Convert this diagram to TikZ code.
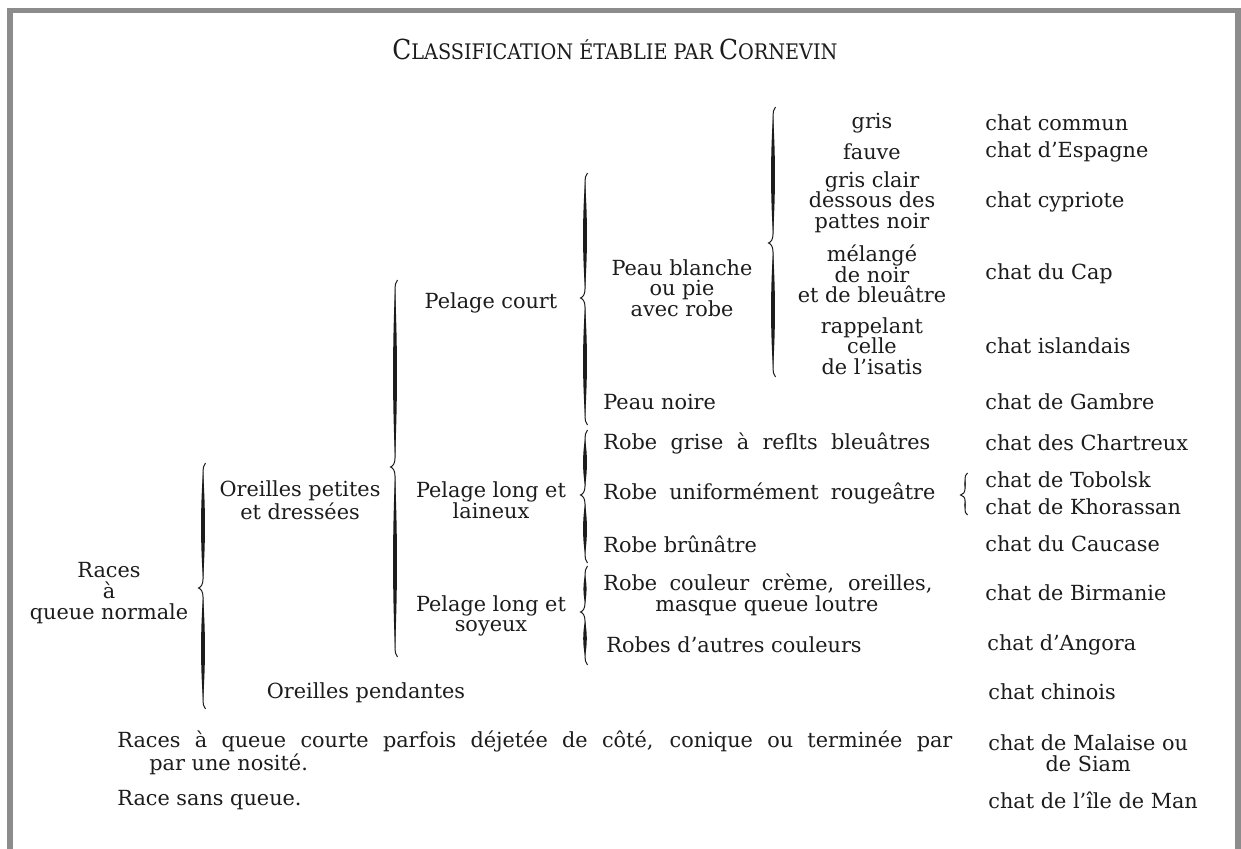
\documentclass[tikz,border=0pt]{standalone}
\usepackage{fontspec}
\setmainfont{DejaVu Serif}
\newfontfamily\titrefont{DejaVu Serif Condensed}
\definecolor{ink}{HTML}{1C1C1C}
\definecolor{cadre}{HTML}{8C8C8C}
% petites capitales faites a la main
\newcommand{\petcap}[2]{{\fontsize{13.8}{14}\selectfont #1}{\fontsize{10.7}{12}\selectfont #2}}
% accolade ouvrante : x, haut, pointe, bas
\newcommand{\accolade}[4]{%
  \pgfmathsetmacro{\accA}{min(9,0.28*(#3-#2))}%
  \pgfmathsetmacro{\accB}{min(9,0.28*(#4-#3))}%
  \pgfmathsetmacro{\wA}{min(2.6,0.045*(#3-#2))}%
  \pgfmathsetmacro{\wB}{min(2.6,0.045*(#4-#3))}%
  \pgfmathsetmacro{\hA}{#2+\accA+0.33*(#3-#2-2*\accA)}%
  \pgfmathsetmacro{\kA}{#3-\accA-0.33*(#3-#2-2*\accA)}%
  \pgfmathsetmacro{\hB}{#3+\accB+0.33*(#4-#3-2*\accB)}%
  \pgfmathsetmacro{\kB}{#4-\accB-0.33*(#4-#3-2*\accB)}%
  \draw[accol] (#1+2.5,#2) .. controls (#1+0.3,#2+0.3*\accA) and (#1,#2+0.6*\accA) .. (#1,#2+\accA)
    -- (#1,#3-\accA) .. controls (#1,#3-0.4*\accA) and (#1-2,#3-0.1*\accA) .. (#1-4.5,#3)
    .. controls (#1-2,#3+0.1*\accB) and (#1,#3+0.4*\accB) .. (#1,#3+\accB)
    -- (#1,#4-\accB) .. controls (#1,#4-0.6*\accB) and (#1+0.3,#4-0.3*\accB) .. (#1+2.5,#4);
  \fill[ink] (#1,#2+\accA) .. controls (#1-\wA,\hA) and (#1-\wA,\kA) .. (#1,#3-\accA)
    .. controls (#1+\wA,\kA) and (#1+\wA,\hA) .. cycle;
  \fill[ink] (#1,#3+\accB) .. controls (#1-\wB,\hB) and (#1-\wB,\kB) .. (#1,#4-\accB)
    .. controls (#1+\wB,\kB) and (#1+\wB,\hB) .. cycle;
}

\begin{document}
\begin{tikzpicture}[x=0.5pt,y=-0.5pt,
    txt/.style={font=\fontsize{10.4}{10.3}\selectfont, text=ink},
    lt/.style={txt, anchor=west},
    ctr/.style={txt, align=center},
    accol/.style={draw=ink, line width=0.5pt}]
  \tikzstyle{every node}+=[inner sep=0pt]
  \useasboundingbox (0,0) rectangle (1241,849);
  \fill[white] (0,0) rectangle (1241,849);
  % cadre de la page
  \fill[cadre] (7,8) rectangle (13,849);
  \fill[cadre] (7,8) rectangle (1241,13);
  \fill[cadre] (1235,8) rectangle (1241,849);

  \node[txt] (titre) at (615,49) {\titrefont\petcap{C}{LASSIFICATION ÉTABLIE PAR}\ \petcap{C}{ORNEVIN}};

  % premiere colonne
  \node[ctr] (normale) at (109,593) {Races\\à\\queue normale};
  \node[ctr] (dressees) at (300,500) {Oreilles petites\\et dressées};
  \node[ctr] (pendantes) at (366,693) {Oreilles pendantes};
  \node[ctr] (court) at (491,303) {Pelage court};
  \node[ctr] (laineux) at (491,500) {Pelage long et\\laineux};
  \node[ctr] (soyeux) at (491,616) {Pelage long et\\soyeux};

  % robes
  \node[ctr] (blanche) at (682,288) {Peau blanche\\ou pie\\avec robe};
  \node[lt] (noire) at (603,402) {Peau noire};
  \node[lt] (grise) at (603,443) {\makebox[163.5pt][s]{Robe grise à reflts bleuâtres}};
  \node[lt] (rouge) at (603,493) {\makebox[166pt][s]{Robe uniformément rougeâtre}};
  \node[lt] (brun) at (603,544) {Robe brûnâtre};
  \node[lt, align=left] (creme) at (603,595) {\makebox[164.5pt][s]{Robe couleur crème, oreilles,}\\\hspace*{26pt}masque queue loutre};
  \node[lt] (autres) at (606,645) {Robes d’autres couleurs};

  % nuances
  \node[ctr] (gris) at (872,123) {gris};
  \node[ctr] (fauve) at (872,152) {fauve};
  \node[ctr] (clair) at (872,202) {gris clair\\dessous des\\pattes noir};
  \node[ctr] (melange) at (872,274) {mélangé\\de noir\\et de bleuâtre};
  \node[ctr] (isatis) at (872,346) {rappelant\\celle\\de l’isatis};

  % races de chats
  \node[lt] (commun) at (985,123) {chat commun};
  \node[lt] (espagne) at (985,152) {chat d’Espagne};
  \node[lt] (cypriote) at (985,202) {chat cypriote};
  \node[lt] (cap) at (985,274) {chat du Cap};
  \node[lt] (islandais) at (985,346) {chat islandais};
  \node[lt] (gambre) at (985,402) {chat de Gambre};
  \node[lt] (chartreux) at (985,443) {chat des Chartreux};
  \node[lt] (tobolsk) at (985,480) {chat de Tobolsk};
  \node[lt] (khorassan) at (985,507) {chat de Khorassan};
  \node[lt] (caucase) at (985,544) {chat du Caucase};
  \node[lt] (birmanie) at (985,593) {chat de Birmanie};
  \node[lt] (angora) at (987,645) {chat d’Angora};
  \node[lt] (chinois) at (988,692) {chat chinois};
  \node[lt, align=center] (malaise) at (988,753) {chat de Malaise ou\\de Siam};
  \node[lt] (man) at (988,800) {chat de l’île de Man};

  % queues courtes ou absentes
  \node[lt, align=left] (courte) at (117,753) {\makebox[417.5pt][s]{Races à queue courte parfois déjetée de côté, conique ou terminée par}\\\hspace*{16pt}par une nosité.};
  \node[lt] (sansqueue) at (117,800) {Race sans queue.};

  % accolades
  \accolade{203}{463}{588}{709}
  \accolade{395}{280}{467}{657}
  \accolade{585}{173}{298}{425}
  \accolade{585}{430}{495}{563}
  \accolade{585}{566}{612}{665}
  \accolade{773}{107}{243}{377}
  \accolade{965}{473}{495}{515}
\end{tikzpicture}
\end{document}
